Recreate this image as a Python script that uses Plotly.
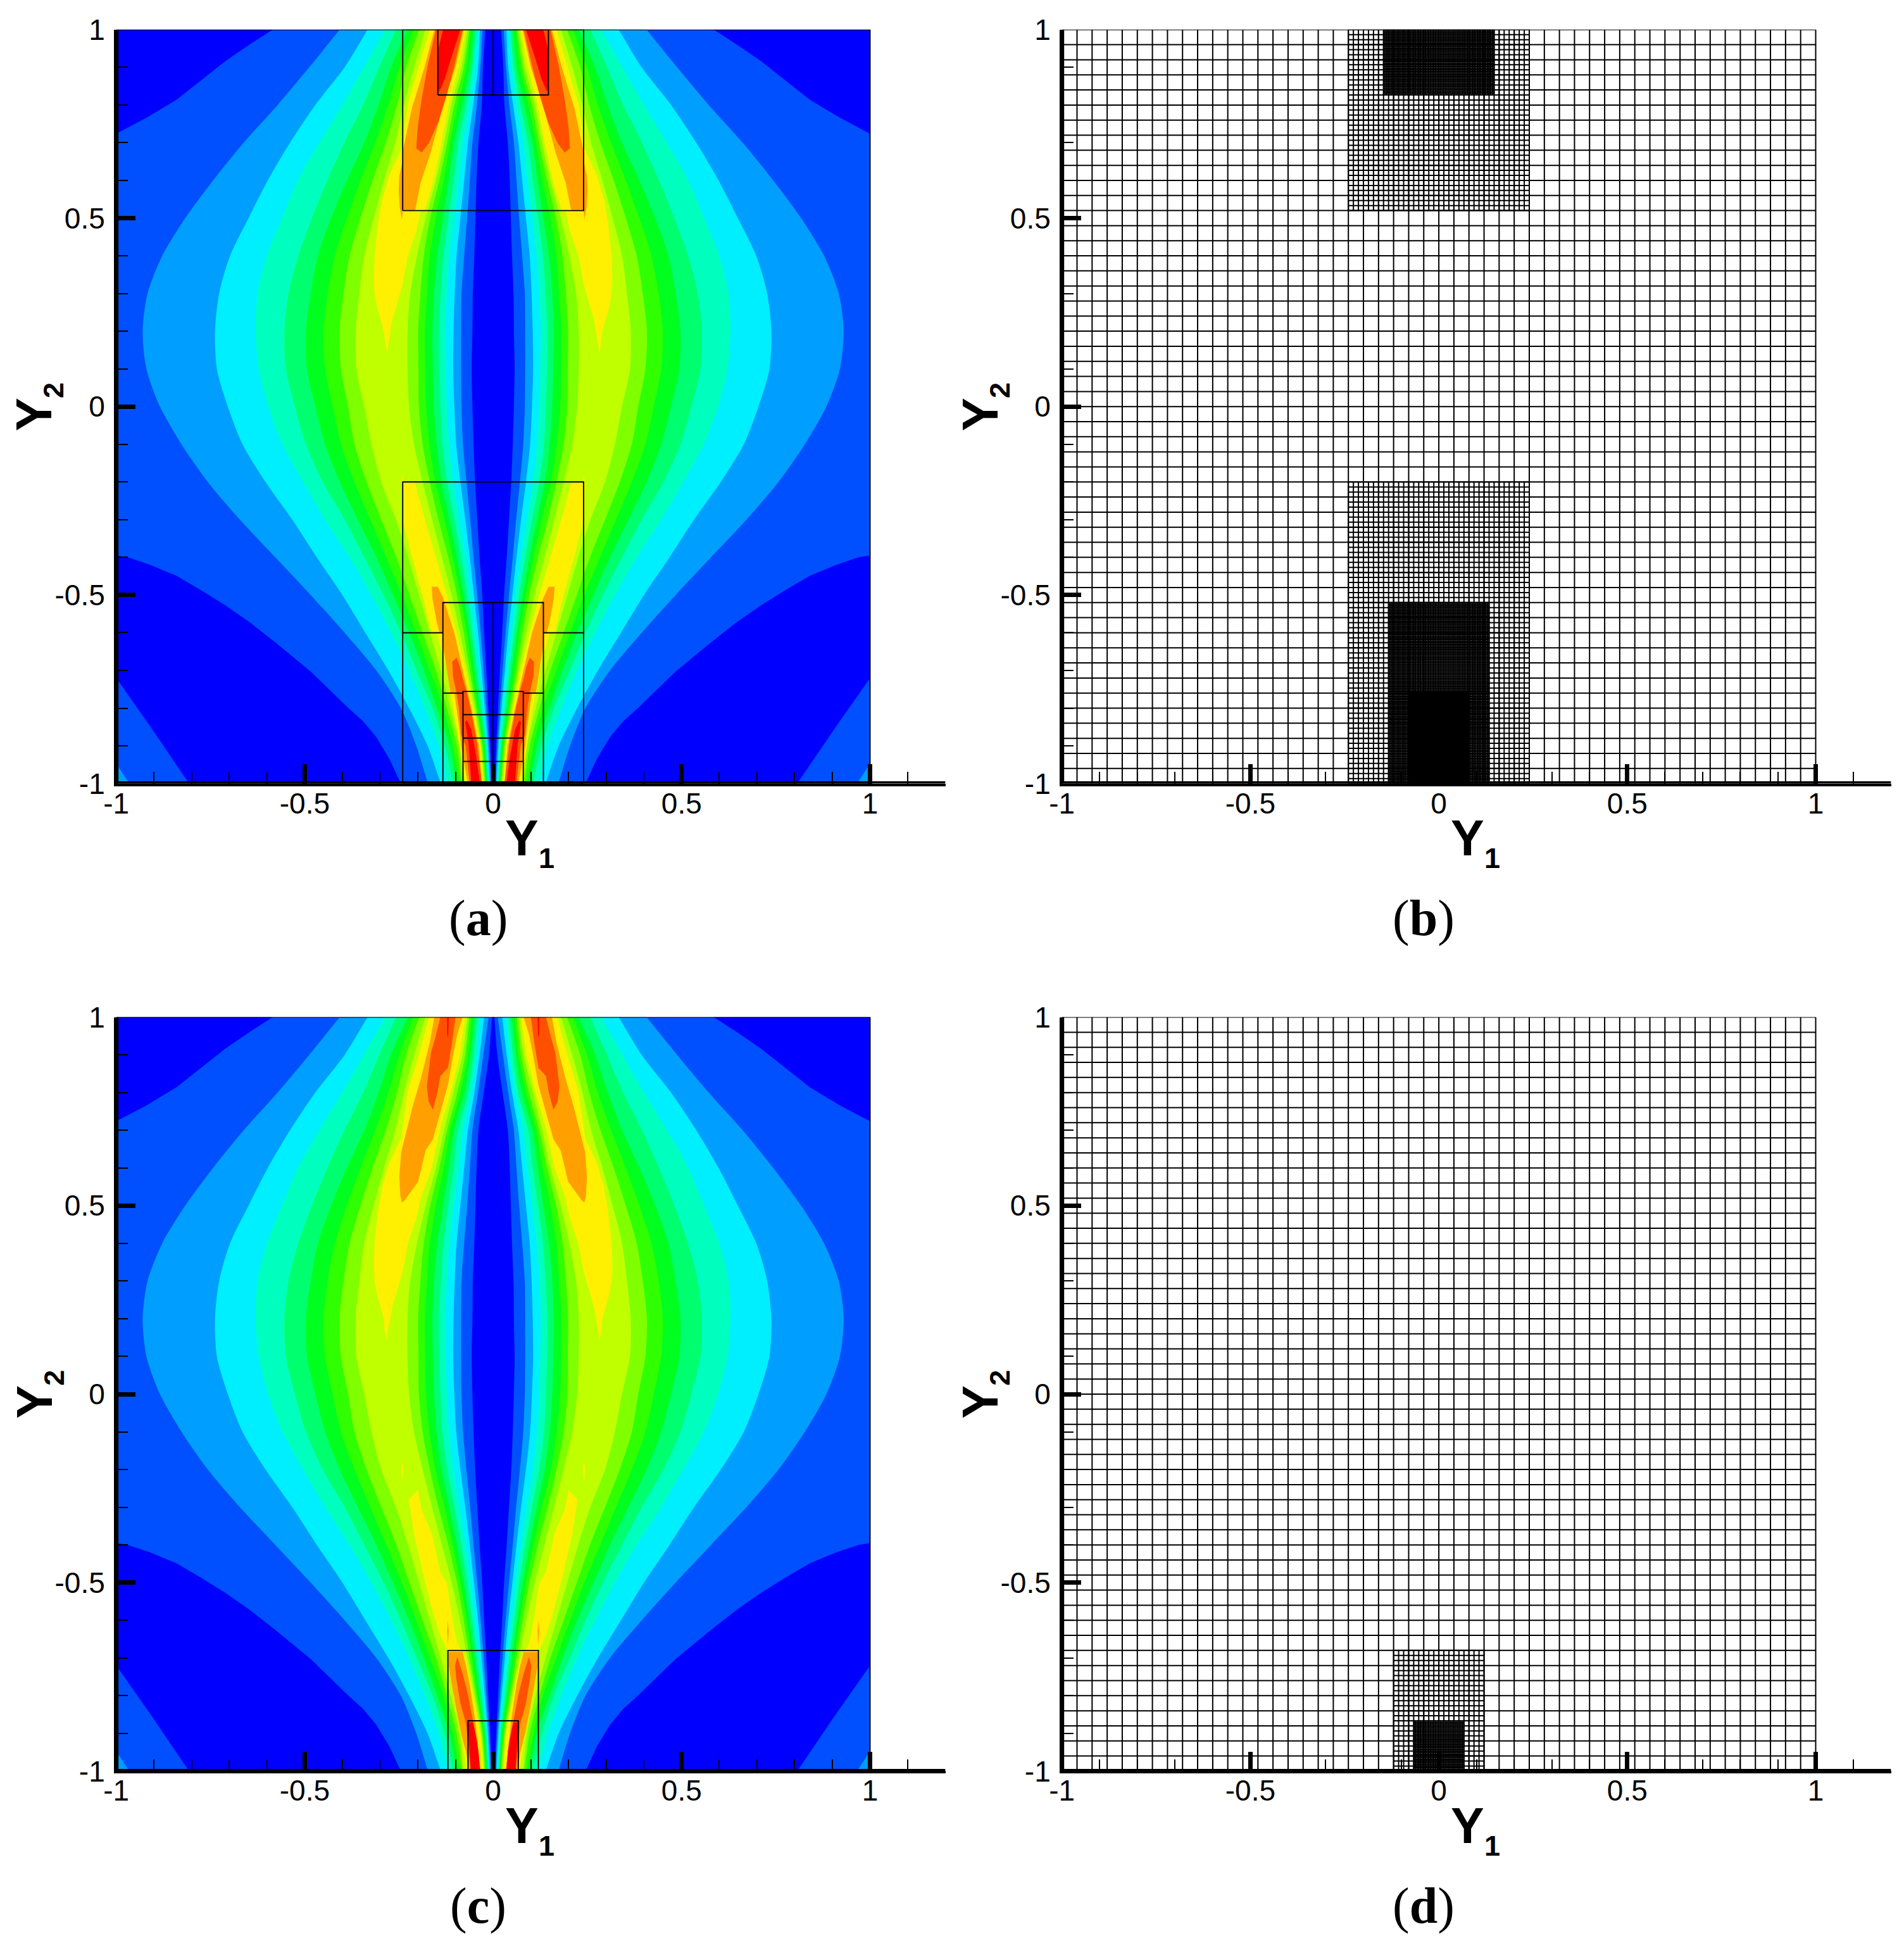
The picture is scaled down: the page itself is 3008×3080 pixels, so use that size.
import plotly.graph_objects as go

# contour bands (right half, the field is mirrored about Y1=0)
band_colors = ["#0000FF", "#0050FF", "#009FFF", "#00EFFF", "#00FFBF", "#00FF6F", "#00FF1F",
               "#2FFF00", "#7FFF00", "#BFFF00", "#FFEF00", "#FFA000", "#FF5000", "#FF0000"]

y_rows = [1, .9, .8, .7, .6, .5, .4, .3, .2, .1, 0, -.1, -.2, -.3, -.4, -.5, -.6, -.7, -.8, -.9, -1]

inner_l1 = [.021, .027, .030, .039, .044, .047, .050, .054, .055, .057, .055, .052, .048, .042, .036, .029, .024, .018, .013, .008, .004]
inner_l2 = [.028, .034, .043, .055, .062, .069, .077, .084, .085, .085, .084, .080, .071, .061, .052, .042, .033, .025, .018, .011, .006]
inner_l3 = [.035, .040, .053, .067, .077, .087, .097, .102, .105, .106, .103, .098, .087, .074, .062, .051, .040, .031, .022, .014, .009]
inner_l4 = [.041, .049, .062, .080, .091, .104, .116, .123, .127, .125, .123, .117, .106, .090, .074, .060, .049, .037, .027, .017, .011]
inner_l5 = [.046, .055, .072, .093, .105, .119, .132, .139, .144, .143, .140, .135, .122, .103, .085, .069, .056, .043, .031, .020, .014]
inner_l6 = [.052, .062, .082, .104, .118, .133, .148, .157, .161, .160, .157, .150, .137, .116, .096, .078, .063, .049, .036, .023, .017]
inner_l7 = [.060, .071, .094, .114, .131, .152, .168, .175, .181, .180, .178, .169, .153, .129, .107, .087, .070, .056, .041, .026, .019]
inner_l8 = [.063, .078, .103, .122, .143, .167, .184, .193, .199, .198, .197, .187, .168, .145, .119, .096, .078, .062, .045, .029, .021]
inner_l9 = [.068, .084, .111, .130, .152, .179, .202, .220, .227, .227, .223, .210, .187, .162, .136, .110, .088, .068, .049, .032, .023]

outer_l2 = [.407, .488, .572, .662, .743, .817, .878, .917, .930, .920, .884, .827, .757, .672, .578, .484, .394, .310, .245, .204, .173]
outer_l3 = [.333, .394, .472, .539, .598, .649, .698, .727, .738, .733, .704, .665, .604, .533, .468, .400, .339, .278, .223, .174, .139]
outer_l4 = [.286, .343, .400, .461, .518, .560, .600, .625, .630, .622, .597, .559, .504, .446, .381, .323, .271, .223, .181, .145, .120]
outer_l5 = [.258, .302, .345, .395, .440, .481, .517, .543, .554, .550, .526, .497, .452, .394, .342, .291, .245, .203, .161, .129, .105]
outer_l6 = [.227, .271, .304, .342, .388, .430, .465, .484, .497, .494, .472, .446, .407, .359, .310, .266, .223, .184, .149, .116, .097]
outer_l7 = [.212, .249, .278, .313, .352, .388, .420, .439, .450, .446, .426, .404, .368, .326, .284, .242, .204, .168, .132, .107, .090]
outer_l8 = [.196, .231, .255, .285, .320, .352, .381, .397, .408, .404, .385, .368, .336, .297, .257, .222, .187, .152, .123, .097, .083]
outer_l9 = [.180, .210, .237, .260, .290, .317, .342, .355, .365, .363, .342, .323, .297, .258, .226, .197, .168, .139, .113, .090, .080]

# panel (c) has a narrower wake at the top, first three rows only
c_top_l1 = [.003, .011, .025]
c_top_l2 = [.012, .026, .040]
c_top_l3 = [.024, .036, .050]
c_top_l4 = [.035, .044, .059]
c_top_l5 = [.042, .052, .066]
c_top_l6 = [.049, .060, .076]
c_top_l7 = [.057, .067, .087]
c_top_l8 = [.063, .074, .095]
c_top_l9 = [.068, .081, .106]

dark_top = [(.585, 1), (.65, .958), (.711, .916), (.775, .866), (.84, .814), (.92, .766), (1, .724), (1, 1)]
dark_low = [(.245, -1), (.275, -.935), (.31, -.877), (.345, -.835), (.388, -.796), (.484, -.703), (.581, -.623), (.645, -.573), (.711, -.527),
            (.775, -.487), (.84, -.449), (.91, -.42), (.969, -.40), (1, -.395), (1, -.72), (.904, -.857), (.807, -1)]
corner_l2 = [(.966, -1), (1, -.947), (1, -1)]

a_yellow_top = [(.0725, 1), (.092, .9), (.118, .8), (.137, .7), (.158, .6), (.182, .52), (.192, .52), (.2035, .467), (.226, .4), (.24, .325),
                (.249, .293), (.268, .229), (.282, .139), (.29, .2), (.307, .26), (.3146, .3), (.3165, .338), (.3146, .4), (.305, .486),
                (.294, .55), (.275, .614), (.244, .68), (.227, .8), (.197, .9), (.168, 1)]
a_yellow_low = [(.208, -.2), (.238, -.2), (.241, -.18), (.243, -.2), (.24, -.3), (.215, -.4), (.187, -.5), (.163, -.6), (.15, -.6), (.122, -.7),
                (.113, -.76), (.105, -.8), (.089, -.9), (.074, -1), (.026, -1), (.034, -.9), (.053, -.8), (.073, -.7), (.097, -.6), (.123, -.5),
                (.152, -.4), (.181, -.3)]
a_orange_top = [(.078, 1), (.10, .9), (.124, .827), (.143, .76), (.165, .676), (.193, .592), (.207, .52), (.24, .52), (.242, .495), (.248, .53),
                (.2507, .575), (.249, .612), (.24, .652), (.24, .676), (.216, .79), (.182, .9), (.156, 1)]
a_orange_low = [(.147, -.478), (.163, -.478), (.161, -.51), (.149, -.575), (.142, -.6), (.134, -.6), (.132, -.64), (.123, -.70), (.113, -.76),
                (.103, -.76), (.09, -.85), (.085, -.9), (.067, -1), (.03, -1), (.038, -.9), (.058, -.8), (.081, -.7), (.103, -.6), (.129, -.52), (.132, -.51)]
a_fire_top = [(.081, 1), (.103, .904), (.123, .827), (.145, .756), (.171, .698), (.19, .674), (.204, .685), (.20, .743), (.19, .814), (.174, .904), (.152, 1)]
a_fire_low = [(.097, -.666), (.1085, -.677), (.1066, -.716), (.097, -.76), (.091, -.8), (.085, -.87), (.073, -.9), (.062, -1), (.03, -1), (.042, -.9),
              (.0566, -.8167), (.0707, -.7556), (.081, -.72), (.088, -.69)]
a_red_top = [(.087, 1), (.133, 1), (.145, .95), (.147, .86), (.143, .835), (.128, .87), (.113, .92)]
a_red_low = [(.07, -.832), (.074, -.838), (.065, -.896), (.058, -1), (.036, -.993), (.045, -.928), (.058, -.857)]

c_yellow_top = [(.074, 1), (.088, .9), (.113, .8), (.142, .7), (.163, .6), (.192, .52), (.2035, .467), (.226, .4), (.24, .325), (.249, .293),
                (.268, .229), (.283, .143), (.288, .171), (.29, .2), (.307, .26), (.3146, .3), (.3165, .338), (.3146, .4), (.305, .486),
                (.294, .55), (.275, .614), (.244, .68), (.227, .8), (.197, .9), (.17, 1)]
c_yellow_sliver = [(.241, -.176), (.244, -.2), (.242, -.232), (.238, -.2)]
c_yellow_low = [(.20, -.254), (.224, -.28), (.22, -.305), (.21, -.372), (.185, -.48), (.162, -.57), (.14, -.64), (.12, -.684), (.118, -.72), (.115, -.74),
                (.105, -.8), (.092, -.865), (.08, -.93), (.07, -1), (.026, -1), (.034, -.9), (.053, -.8), (.073, -.7), (.083, -.684), (.095, -.663),
                (.106, -.607), (.12, -.515), (.123, -.5), (.14, -.473), (.16, -.383), (.162, -.372), (.19, -.305)]
c_orange_top = [(.081, 1), (.095, .955), (.106, .90), (.12, .82), (.16, .676), (.179, .647), (.199, .564), (.235, .514), (.242, .508), (.246, .525),
                (.249, .575), (.244, .642), (.23, .698), (.213, .765), (.19, .844), (.168, .933), (.156, 1)]
c_orange_sliver = [(.12, -.6), (.122, -.63), (.12, -.665), (.118, -.63)]
c_orange_low = [(.081, -.684), (.118, -.684), (.118, -.72), (.108, -.78), (.095, -.85), (.085, -.90), (.072, -.95), (.064, -1), (.033, -1), (.04, -.95),
                (.047, -.87), (.062, -.77), (.072, -.72)]
c_fire_top = [(.10, 1), (.109, .933), (.12, .866), (.14, .844), (.148, .799), (.16, .754), (.171, .776), (.176, .816), (.165, .906), (.154, .944), (.14, 1)]
c_fire_low = [(.095, -.697), (.101, -.72), (.098, -.753), (.087, -.82), (.073, -.87), (.067, -.92), (.06, -1), (.034, -1), (.042, -.92), (.053, -.87),
              (.067, -.797), (.081, -.741)]
c_red_top = [(.118, 1), (.122, 1), (.122, .956), (.12, .945), (.119, .956)]
c_red_low = [(.053, -.871), (.067, -.871), (.066, -.893), (.062, -.948), (.059, -1), (.035, -1), (.039, -.948), (.048, -.898)]

# mesh patches (x half width, y0, y1, cell size), coarse level first
coarse_h = .04
mesh_b = [(1, -1, 1, coarse_h), (.24, .52, 1, coarse_h / 3), (.24, -1, -.2, coarse_h / 3), (.44 / 3, 1 - .52 / 3, 1, coarse_h / 9),
          (.4 / 3, -1, -.52, coarse_h / 9), (.08, -1, -1 + 2.2 / 9, coarse_h / 27)]
mesh_d = [(1, -1, 1, coarse_h), (.12, -1, -.68, coarse_h / 3), (.2 / 3, -1, -1 + .4 / 3, coarse_h / 9)]

# block outlines on the contour panels: x0, x1, y0, y1
blocks_a = [(-1, 1, -1, 1), (-.24, .24, .52, 1), (-.44 / 3, .44 / 3, 1 - .52 / 3, 1), (0, 0, 1 - .52 / 3, 1),
            (-.24, .24, -1, -.2), (-.4 / 3, .4 / 3, -1, -.52), (0, 0, -1, -.52),
            (-.24, -.4 / 3, -.6, -.6), (.4 / 3, .24, -.6, -.6), (-.4 / 3, -.08, -.76, -.76), (.08, .4 / 3, -.76, -.76),
            (-.08, .08, -1, -.7556), (-.08, .08, -.8173, -.8173), (-.08, .08, -.8793, -.8793), (-.08, .08, -.9413, -.9413)]
blocks_c = [(-1, 1, -1, 1), (-.12, .12, -1, -.68), (-.2 / 3, .2 / 3, -1, -1 + .4 / 3)]

major_vals = [-1, -.5, 0, .5, 1]
major_text = ["-1", "-0.5", "0", "0.5", "1"]
minor_x = [-.9, -.8, -.7, -.6, -.4, -.3, -.2, -.1, .1, .2, .3, .4, .6, .7, .8, .9, 1.1]
minor_y = [-.9, -.8, -.7, -.6, -.4, -.3, -.2, -.1, .1, .2, .3, .4, .6, .7, .8, .9]

W, H = 3008, 3080
OFF = 8
UNIT = 595.4
col_left = [183.7, 1677.7]
row_bottom = [1237.6, 2797.4]
TICK_FONT = dict(family="Liberation Sans", size=46, color="black")
LABEL_FONT = dict(family="Liberation Sans", size=79, color="black")
SUB_FONT = dict(family="Liberation Sans", size=45, color="black")


def px(x):
    return (x - OFF) / W


def py(y):
    return 1 - (y - OFF) / H


def poly_xy(points):
    # right half and its mirror image, None between the polygons
    xs, ys = [], []
    for sign in (1, -1):
        xs += [sign * p[0] for p in points] + [None]
        ys += [p[1] for p in points] + [None]
    return xs, ys


def run_past_edges(col):
    # one more point beyond each edge so the spline corner lands outside the clip
    pts = list(zip(col, y_rows))
    top = (col[0] + col[0] - col[1], 1.1)
    low = (col[-1] + col[-1] - col[-2], -1.1)
    return [top] + pts + [low]


def band_polygon(inner, outer):
    return run_past_edges(outer) + run_past_edges(inner)[::-1]


def add_raw(fig, xs, ys, color, n, shape="linear"):
    fig.add_trace(go.Scatter(x=xs, y=ys, mode="lines", fill="toself", fillcolor=color,
                             line=dict(width=0, color=color, shape=shape, smoothing=.8),
                             hoverinfo="skip", showlegend=False, xaxis="x" + n, yaxis="y" + n))


def add_fill(fig, polys, color, n, shape="linear"):
    xs, ys = [], []
    for points in polys:
        a, b = poly_xy(points)
        xs += a
        ys += b
    add_raw(fig, xs, ys, color, n, shape)


def add_contours(fig, n, inners, hot):
    add_raw(fig, [-1, 1, 1, -1, -1], [-1, -1, 1, 1, -1], band_colors[1], n)
    # the wake along Y1=0 is one closed strip, both sides of the axis
    right = run_past_edges(inners[0])
    left = [(-p[0], p[1]) for p in right[::-1]]
    strip = right + left
    add_raw(fig, [p[0] for p in strip], [p[1] for p in strip], band_colors[0], n, "spline")
    add_fill(fig, [dark_top, dark_low], band_colors[0], n)
    outers = [outer_l2, outer_l3, outer_l4, outer_l5, outer_l6, outer_l7, outer_l8, outer_l9]
    for i, outer in enumerate(outers):
        add_fill(fig, [band_polygon(inners[i + 1], outer)], band_colors[i + 2], n, "spline")
        if i == 0:
            add_fill(fig, [corner_l2], band_colors[2], n)
    for i, polys in enumerate(hot):
        add_fill(fig, polys, band_colors[i + 10], n)


def add_segments(fig, n, segs, width):
    xs, ys = [], []
    for x0, x1, y0, y1 in segs:
        if x0 == x1 or y0 == y1:
            xs += [x0, x1, None]
            ys += [y0, y1, None]
        else:
            xs += [x0, x1, x1, x0, x0, None]
            ys += [y0, y0, y1, y1, y0, None]
    fig.add_trace(go.Scatter(x=xs, y=ys, mode="lines", line=dict(color="black", width=width), connectgaps=False,
                             hoverinfo="skip", showlegend=False, xaxis="x" + n, yaxis="y" + n))


def mesh_segments(half, y0, y1, h):
    segs = []
    nx = round(2 * half / h)
    ny = round((y1 - y0) / h)
    for i in range(nx + 1):
        x = -half + i * h
        segs.append((x, x, y0, y1))
    for j in range(ny + 1):
        y = y0 + j * h
        segs.append((-half, half, y, y))
    return segs


inners_a = [inner_l1, inner_l2, inner_l3, inner_l4, inner_l5, inner_l6, inner_l7, inner_l8, inner_l9]
c_tops = [c_top_l1, c_top_l2, c_top_l3, c_top_l4, c_top_l5, c_top_l6, c_top_l7, c_top_l8, c_top_l9]
inners_c = [t + v[3:] for t, v in zip(c_tops, inners_a)]
hot_a = [[a_yellow_top, a_yellow_low], [a_orange_top, a_orange_low], [a_fire_top, a_fire_low], [a_red_top, a_red_low]]
hot_c = [[c_yellow_top, c_yellow_sliver, c_yellow_low], [c_orange_top, c_orange_sliver, c_orange_low],
         [c_fire_top, c_fire_low], [c_red_top, c_red_low]]

fig = go.Figure()
layout = dict(width=W, height=H, margin=dict(l=0, r=0, t=0, b=0), paper_bgcolor="white", plot_bgcolor="white", showlegend=False)
annotations = []

for k, name in enumerate(["a", "b", "c", "d"]):
    n = "" if k == 0 else str(k + 1)
    left = col_left[k % 2]
    bottom = row_bottom[k // 2]
    if name == "a":
        add_contours(fig, n, inners_a, hot_a)
        add_segments(fig, n, blocks_a, 1.9)
    elif name == "c":
        add_contours(fig, n, inners_c, hot_c)
        add_segments(fig, n, blocks_c, 1.9)
    else:
        for patch in (mesh_b if name == "b" else mesh_d):
            add_segments(fig, n, mesh_segments(*patch), 2)
    # the clip keeps half of this line inside, the axis line adds the outer half
    fig.add_trace(go.Scatter(x=[-1, 1.2, None, -1, -1], y=[-1, -1, None, -1, 1], mode="lines", line=dict(color="black", width=7),
                             hoverinfo="skip", showlegend=False, xaxis="x" + n, yaxis="y" + n))
    layout["xaxis" + n] = dict(domain=[px(left), px(left + 2.2 * UNIT)], range=[-1, 1.2], anchor="y" + n, automargin=False,
                               tickmode="array", tickvals=major_vals, ticktext=major_text, tickfont=TICK_FONT, tickangle=0,
                               ticks="inside", ticklen=31, tickwidth=6.5, tickcolor="black", ticklabelstandoff=-12,
                               minor=dict(tickmode="array", tickvals=minor_x, ticks="inside", ticklen=18.5, tickwidth=2, tickcolor="black"),
                               showgrid=False, zeroline=False, showline=True, linewidth=3.5, linecolor="black")
    layout["yaxis" + n] = dict(domain=[py(bottom), py(bottom - 2 * UNIT)], range=[-1, 1], anchor="x" + n, automargin=False,
                               tickmode="array", tickvals=major_vals, ticktext=major_text, tickfont=TICK_FONT,
                               ticks="inside", ticklen=31, tickwidth=6.5, tickcolor="black", ticklabelstandoff=5,
                               minor=dict(tickmode="array", tickvals=minor_y, ticks="inside", ticklen=18.5, tickwidth=2, tickcolor="black"),
                               showgrid=False, zeroline=False, showline=True, linewidth=3.5, linecolor="black")
    cx = left + UNIT
    annotations += [
        dict(text="<b>Y</b>", x=px(cx + 45.5), y=py(bottom + 86), font=LABEL_FONT),
        dict(text="<b>1</b>", x=px(cx + 84), y=py(bottom + 118), font=SUB_FONT),
        dict(text="<b>Y</b>", x=px(left - 130), y=py(bottom - UNIT + 12), textangle=-90, font=LABEL_FONT),
        dict(text="<b>2</b>", x=px(left - 99), y=py(bottom - UNIT - 26), textangle=-90, font=SUB_FONT),
        dict(text="(<b>" + name + "</b>)", x=px(cx - 24), y=py(bottom + 213), font=dict(family="Liberation Serif", size=80, color="black")),
    ]

for a in annotations:
    a.update(xref="paper", yref="paper", xanchor="center", yanchor="middle", showarrow=False)
layout["annotations"] = annotations
fig.update_layout(**layout)
fig.write_html("out.html")
